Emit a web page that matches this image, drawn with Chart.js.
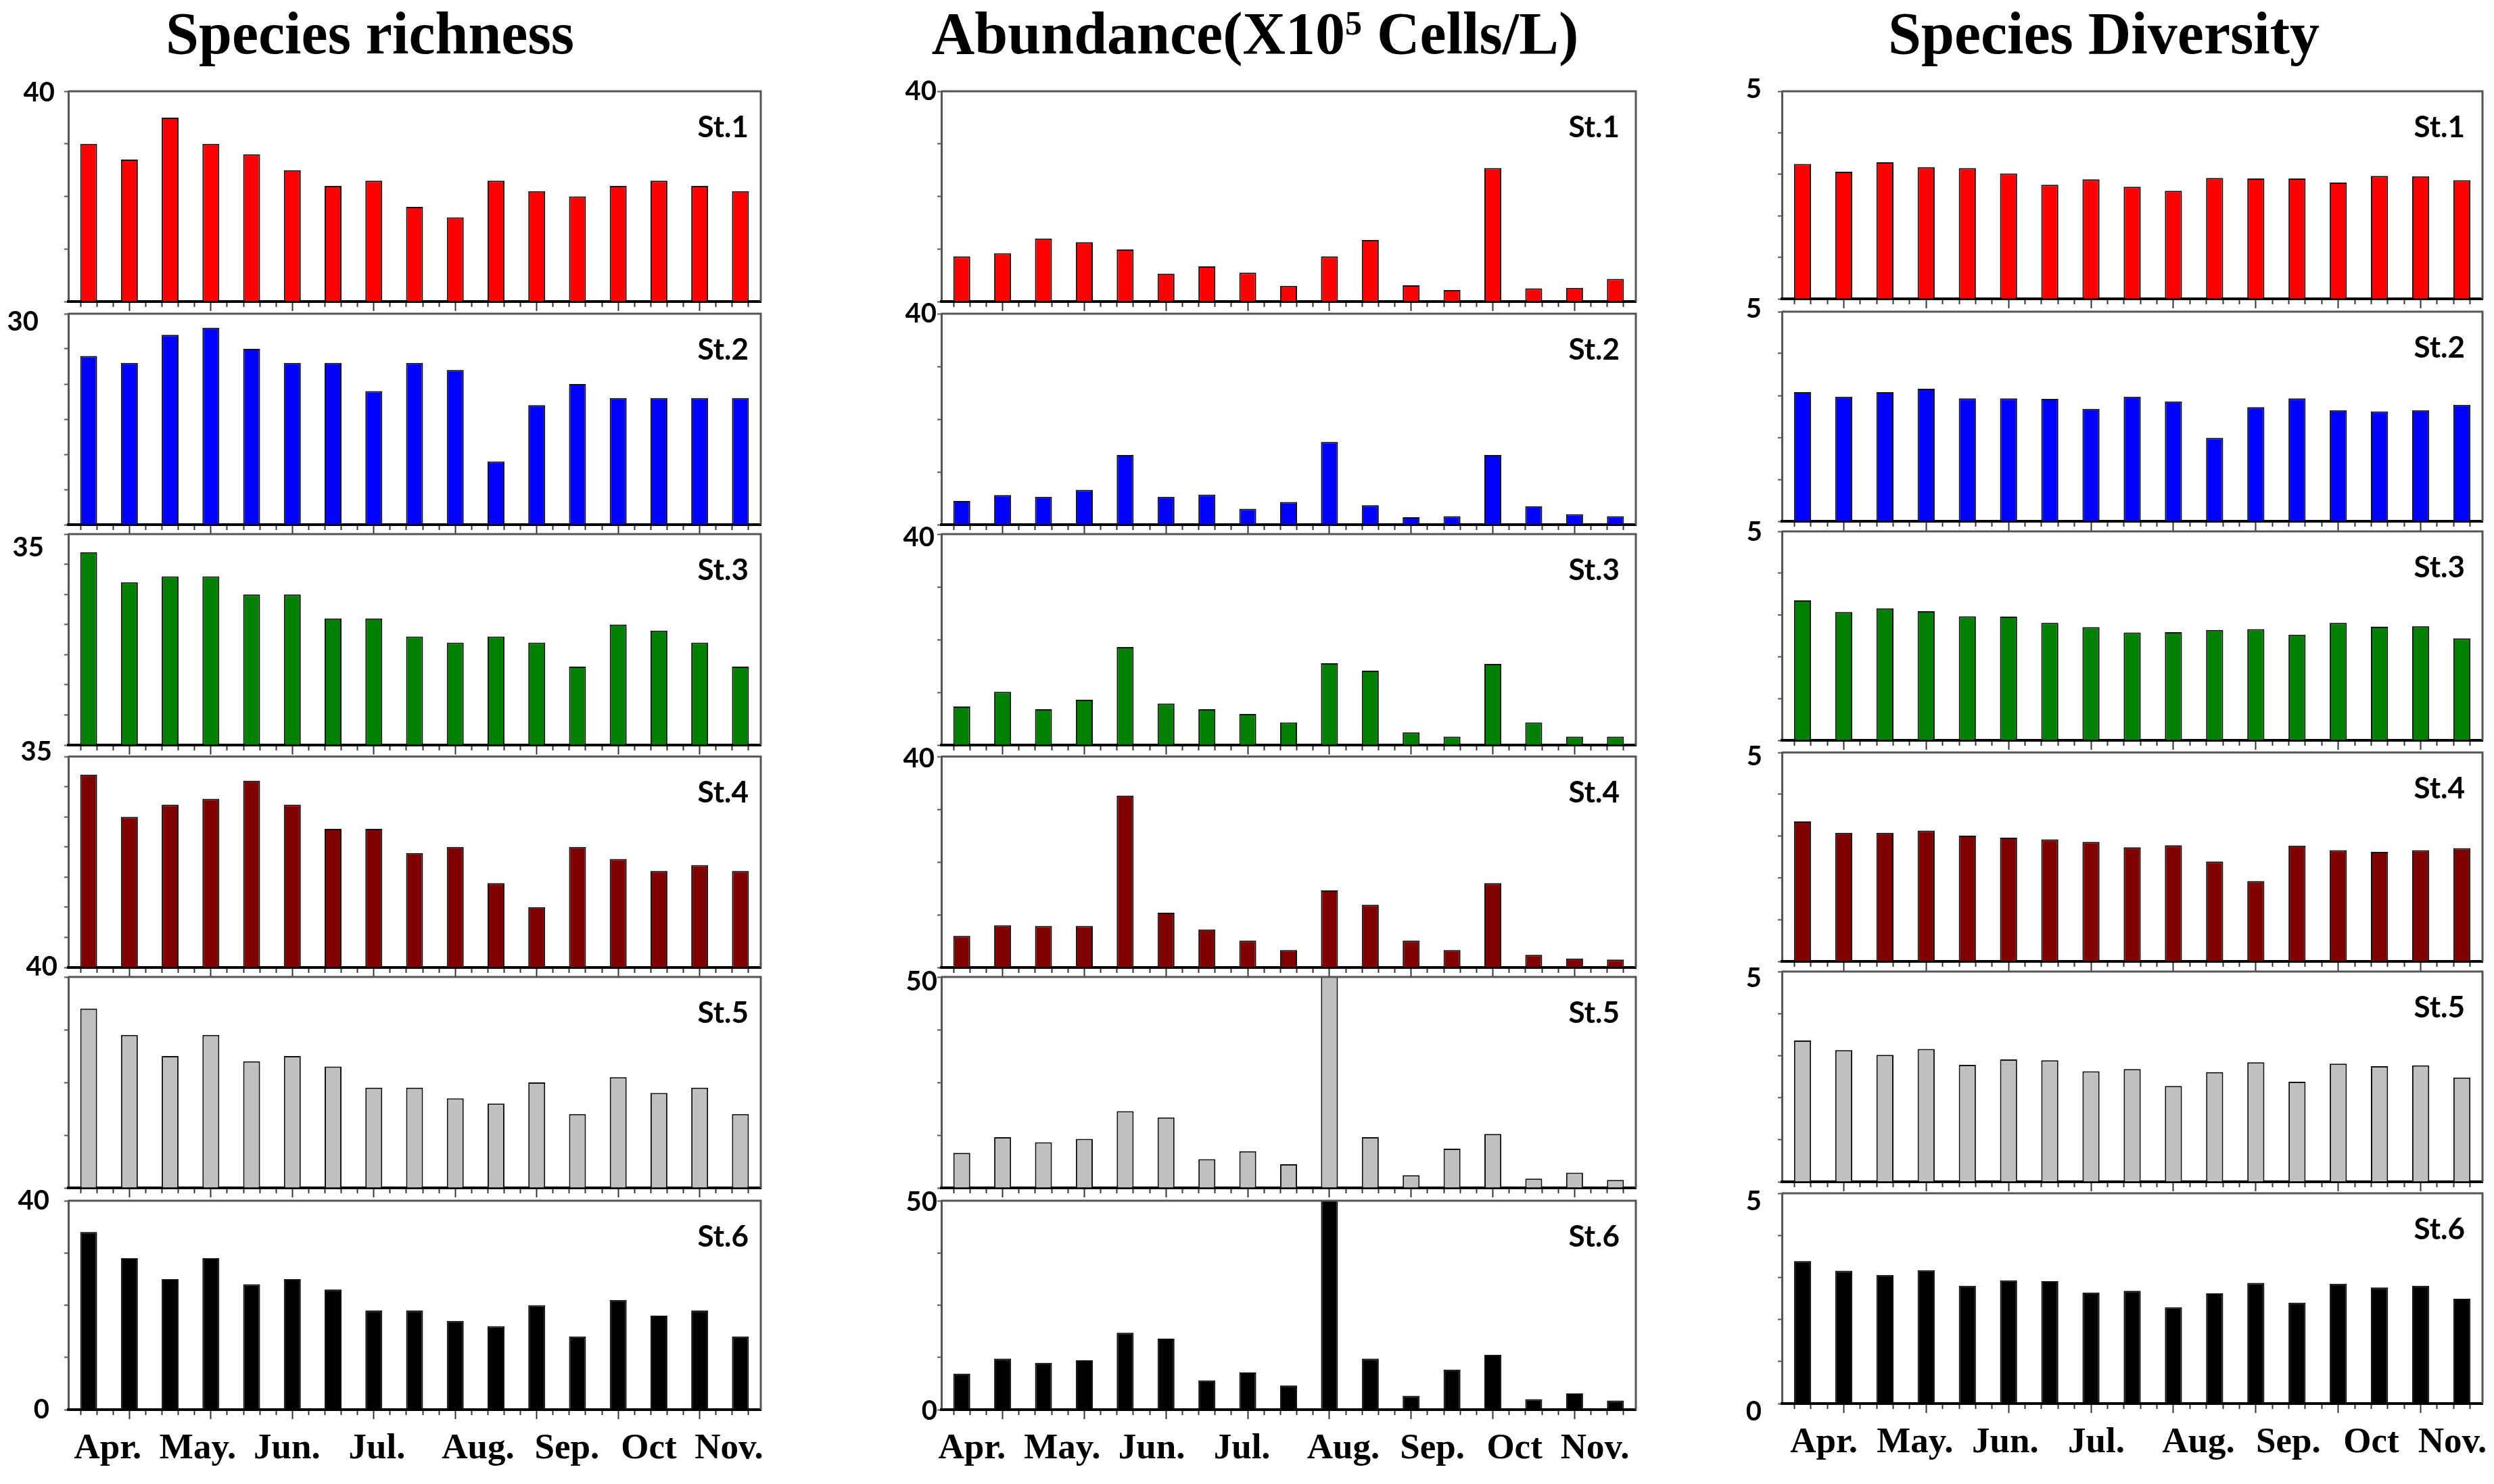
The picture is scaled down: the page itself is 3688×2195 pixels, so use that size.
<!DOCTYPE html>
<html>
<head>
<meta charset="utf-8">
<script src="https://cdn.jsdelivr.net/npm/chart.js"></script>
<style>
html, body { margin: 0; padding: 0; background: #ffffff; }
body { width: 3688px; height: 2195px; position: relative; overflow: hidden; }
.title { position: absolute; top: 6px; font-family: 'Liberation Serif', 'Times New Roman', serif; font-weight: bold;
         font-size: 88px; line-height: 88px; white-space: nowrap; transform: translateX(-50%); color: #000; }
.sup { font-size: 50px; position: relative; top: -28px; }
canvas { position: absolute; }
</style>
</head>
<body>
<div class="title" style="left:547px">Species richness</div>
<div class="title" style="left:1856px">Abundance(X10<span class="sup">5</span> Cells/L)</div>
<div class="title" style="left:3111px">Species Diversity</div>
<script>
// ---------------- DATA ----------------
const samples = ['1','2','3','4','5','6','7','8','9','10','11','12','13','14','15','16','17'];
const months = ['Apr.', 'May.', 'Jun.', 'Jul.', 'Aug.', 'Sep.', 'Oct', 'Nov.'];
const stations = ['St.1', 'St.2', 'St.3', 'St.4', 'St.5', 'St.6'];

const richnessSt1 = [30, 27, 35, 30, 28, 25, 22, 23, 18, 16, 23, 21, 20, 22, 23, 22, 21];
const richnessSt2 = [24, 23, 27, 28, 25, 23, 23, 19, 23, 22, 9, 17, 20, 18, 18, 18, 18];
const richnessSt3 = [32, 27, 28, 28, 25, 25, 21, 21, 18, 17, 18, 17, 13, 20, 19, 17, 13];
const richnessSt4 = [32, 25, 27, 28, 31, 27, 23, 23, 19, 20, 14, 10, 20, 18, 16, 17, 16];
const richnessSt5 = [34, 29, 25, 29, 24, 25, 23, 19, 19, 17, 16, 20, 14, 21, 18, 19, 14];
const richnessSt6 = [34, 29, 25, 29, 24, 25, 23, 19, 19, 17, 16, 20, 14, 21, 18, 19, 14];
const richnessMax = [40, 30, 35, 35, 40, 40];
const richnessStep = [10, 5, 5, 5, 10, 10];

const abundanceSt1 = [8.6, 9.2, 12.0, 11.3, 9.9, 5.3, 6.7, 5.5, 3.0, 8.6, 11.7, 3.1, 2.2, 25.4, 2.5, 2.6, 4.3];
const abundanceSt2 = [4.5, 5.6, 5.3, 6.6, 13.2, 5.3, 5.7, 3.0, 4.3, 15.7, 3.7, 1.4, 1.6, 13.2, 3.5, 2.0, 1.6];
const abundanceSt3 = [7.3, 10.1, 6.8, 8.6, 18.6, 7.9, 6.8, 5.9, 4.3, 15.5, 14.1, 2.4, 1.6, 15.4, 4.3, 1.6, 1.6];
const abundanceSt4 = [6.0, 8.0, 7.9, 7.9, 32.6, 10.4, 7.2, 5.1, 3.3, 14.6, 11.9, 5.1, 3.3, 16.0, 2.4, 1.7, 1.5];
const abundanceSt5 = [8.3, 12.0, 10.8, 11.6, 18.2, 16.7, 6.8, 8.7, 5.6, 62, 12.0, 3.0, 9.3, 12.8, 2.2, 3.6, 1.9];
const abundanceSt6 = [8.6, 12.2, 11.2, 11.8, 18.4, 17.0, 7.0, 8.9, 5.8, 62, 12.2, 3.3, 9.6, 13.1, 2.5, 3.9, 2.2];
const abundanceMax = [40, 40, 40, 40, 50, 50];
const abundanceStep = [10, 10, 10, 10, 12.5, 12.5];

const diversitySt1 = [3.25, 3.06, 3.29, 3.17, 3.15, 3.02, 2.75, 2.88, 2.70, 2.60, 2.91, 2.90, 2.90, 2.80, 2.96, 2.95, 2.86];
const diversitySt2 = [3.08, 2.97, 3.08, 3.16, 2.93, 2.93, 2.92, 2.68, 2.97, 2.86, 1.99, 2.72, 2.93, 2.65, 2.62, 2.65, 2.78];
const diversitySt3 = [3.35, 3.07, 3.16, 3.09, 2.97, 2.96, 2.81, 2.71, 2.58, 2.59, 2.64, 2.66, 2.53, 2.81, 2.72, 2.73, 2.44];
const diversitySt4 = [3.35, 3.08, 3.08, 3.13, 3.01, 2.96, 2.92, 2.86, 2.73, 2.78, 2.39, 1.92, 2.77, 2.66, 2.62, 2.66, 2.71];
const diversitySt5 = [3.36, 3.13, 3.02, 3.16, 2.78, 2.91, 2.89, 2.63, 2.68, 2.28, 2.61, 2.84, 2.38, 2.81, 2.75, 2.77, 2.48];
const diversitySt6 = [3.39, 3.16, 3.06, 3.17, 2.80, 2.93, 2.91, 2.64, 2.68, 2.29, 2.62, 2.87, 2.40, 2.85, 2.76, 2.80, 2.49];
const diversityMax = [5, 5, 5, 5, 5, 5];
const diversityStep = [1, 1, 1, 1, 1, 1];

// ---------------- STYLE / LAYOUT ----------------
const stationColors = ['#FF0000', '#0000FF', '#008000', '#800000', '#C0C0C0', '#000000'];
const YW = 100, PT = 45, PR = 60, XT = 16, XM = 94;
const LAYOUT = [
  { left: 101, right: 1125, tops: [135, 464, 790, 1119, 1445, 1776], bottoms: [446, 776, 1102, 1431, 1757, 2085],
    labPad: [20, 44, 36, 24, 16, 28], labDy: [2, 12, 20, -7, -15, 0], stInset: 18, monthShift: 0.05 },
  { left: 1392, right: 2419, tops: [135, 464, 790, 1119, 1445, 1776], bottoms: [446, 776, 1102, 1431, 1757, 2085],
    labPad: [7, 7, 10, 10, 6, 6], labDy: [0, 0, 5, 3, 7, 2], stInset: 24, monthShift: -0.17 },
  { left: 2635, right: 3671, tops: [135, 461, 786, 1113, 1437, 1765], bottoms: [442, 771, 1095, 1422, 1748, 2076],
    labPad: [30, 30, 29, 29, 30, 30], labDy: [-3, -4, 1, 6, 10, 12], stInset: 26, monthShift: 0.1 }
];
const MONTH_AT = [0.42, 2.63, 4.82, 7.03, 9.51, 11.69, 13.70, 15.67];

const columns = [
  { series: [richnessSt1, richnessSt2, richnessSt3, richnessSt4, richnessSt5, richnessSt6], max: richnessMax, step: richnessStep },
  { series: [abundanceSt1, abundanceSt2, abundanceSt3, abundanceSt4, abundanceSt5, abundanceSt6], max: abundanceMax, step: abundanceStep },
  { series: [diversitySt1, diversitySt2, diversitySt3, diversitySt4, diversitySt5, diversitySt6], max: diversityMax, step: diversityStep }
];

// x-axis tick marks: minor every 0.4 sample, major every 2 samples
const xTickValues = [];
for (let k = 0; k < 42; k++) xTickValues.push((2 * k - 1) / 5);
function isMajor(v) { const r = Math.round(v); return Math.abs(v - r) < 1e-6 && Math.abs(r % 2) === 1; }

Chart.defaults.animation = false;

function noPad(s) { s.paddingTop = 0; s.paddingBottom = 0; s.paddingLeft = 0; s.paddingRight = 0; }

const framePlugin = {
  id: 'frame',
  afterDatasetsDraw(chart, args, opts) {
    const { ctx, chartArea: a } = chart;
    ctx.save();
    ctx.strokeStyle = '#555555';
    ctx.lineWidth = 3;
    ctx.beginPath();
    ctx.moveTo(a.left, a.top);
    ctx.lineTo(a.right, a.top);
    ctx.lineTo(a.right, a.bottom);
    ctx.stroke();
    ctx.font = 'bold 44px Lato';
    ctx.fillStyle = '#000000';
    ctx.textAlign = 'right';
    ctx.textBaseline = 'alphabetic';
    ctx.fillText(opts.label, a.right - opts.inset, a.top + 68);
    ctx.restore();
  }
};

function makePanel(col, row) {
  const L = LAYOUT[col];
  const C = columns[col];
  const top = L.tops[row], bottom = L.bottoms[row];
  const isBottom = row === 5;
  const w = YW + (L.right - L.left) + PR;
  const h = PT + (bottom - top) + XT + (isBottom ? XM : 0);
  const cv = document.createElement('canvas');
  cv.width = w; cv.height = h;
  cv.style.left = (L.left - YW) + 'px';
  cv.style.top = (top - PT) + 'px';
  cv.style.width = w + 'px';
  cv.style.height = h + 'px';
  document.body.appendChild(cv);

  const maxv = C.max[row];
  const scales = {
    x: { type: 'category', display: false, offset: true },
    y: {
      min: 0, max: maxv,
      ticks: {
        stepSize: C.step[row], autoSkip: false,
        padding: Math.max(0, L.labPad[row] - 6), labelOffset: L.labDy[row],
        color: '#000000', font: { family: 'Lato', weight: 'bold', size: 40 },
        callback: (v) => (Math.abs(v - maxv) < 1e-9 ? String(maxv) : (isBottom && v === 0 ? '0' : ''))
      },
      grid: { drawOnChartArea: false, drawTicks: true, tickLength: 6, tickColor: '#555555', tickWidth: 2 },
      border: { display: true, color: '#555555', width: 3 },
      afterFit: (s) => { s.width = YW; noPad(s); }
    },
    xt: {
      type: 'linear', position: 'bottom', min: -0.5, max: 16.5, offset: false, weight: 0,
      afterBuildTicks: (s) => { s.ticks = xTickValues.map(v => ({ value: v })); },
      ticks: { display: false, autoSkip: false },
      grid: {
        display: true, drawOnChartArea: false, drawTicks: true, offset: false,
        tickLength: 14, tickColor: '#333333', tickWidth: 2,
        tickBorderDash: (c) => (c.tick && isMajor(c.tick.value) ? [] : [6, 40])
      },
      border: { display: true, color: '#000000', width: 4 },
      afterFit: (s) => { s.height = XT; noPad(s); }
    }
  };
  if (isBottom) {
    scales.xm = {
      type: 'linear', position: 'bottom', min: -0.5, max: 16.5, offset: false, weight: 1,
      afterBuildTicks: (s) => { s.ticks = MONTH_AT.map(v => ({ value: v + L.monthShift })); },
      ticks: {
        autoSkip: false, maxRotation: 0, minRotation: 0, padding: 11, color: '#000000',
        font: { family: 'Liberation Serif', weight: 'bold', size: 53, lineHeight: 1.2 },
        callback: (v, i) => months[i]
      },
      grid: { display: false, drawTicks: false },
      border: { display: false },
      afterFit: (s) => { s.height = XM; noPad(s); }
    };
  }

  new Chart(cv, {
    type: 'bar',
    data: {
      labels: samples,
      datasets: [{
        label: stations[row],
        data: C.series[row],
        backgroundColor: stationColors[row],
        borderColor: '#111111',
        borderWidth: 2,
        barPercentage: 0.415,
        categoryPercentage: 1,
        xAxisID: 'x',
        yAxisID: 'y'
      }]
    },
    options: {
      responsive: false,
      animation: false,
      layout: { padding: { top: PT, right: PR, left: 0, bottom: 0 } },
      plugins: {
        legend: { display: false },
        tooltip: { enabled: false },
        frame: { label: stations[row], inset: L.stInset }
      },
      scales: scales
    },
    plugins: [framePlugin]
  });
}

for (let c = 0; c < 3; c++) for (let r = 0; r < 6; r++) makePanel(c, r);
</script>
</body>
</html>
